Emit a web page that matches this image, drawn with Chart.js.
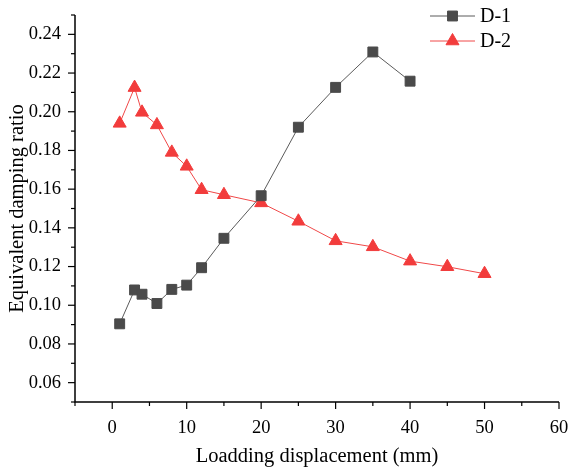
<!DOCTYPE html>
<html lang="en">
<head>
  <meta charset="UTF-8" />
  <title>Equivalent damping ratio</title>
  <script src="https://cdn.jsdelivr.net/npm/chart.js"></script>
  <style>
    html, body {
      margin: 0;
      padding: 0;
      background: #ffffff;
    }
    #wrap {
      position: relative;
      width: 569px;
      height: 469px;
    }
  </style>
</head>
<body>
<div id="wrap">
  <canvas id="myChart"></canvas>
</div>

<script>
  // data
  const dispD1 = [1, 3, 4, 6, 8, 10, 12, 15, 20, 25, 30, 35, 40];
  const ratioD1 = [0.0904, 0.1079, 0.1057, 0.1009, 0.1082, 0.1104, 0.1194, 0.1346, 0.1566, 0.1920, 0.2126, 0.2309, 0.2158];
  const dispD2 = [1, 3, 4, 6, 8, 10, 12, 15, 20, 25, 30, 35, 40, 45, 50];
  const ratioD2 = [0.1940, 0.2125, 0.1997, 0.1932, 0.1790, 0.1718, 0.1597, 0.1571, 0.1529, 0.1434, 0.1333, 0.1302, 0.1228, 0.1199, 0.1163];
  const seriesNames = ['D-1', 'D-2'];
  const xTickLabels = [0, 10, 20, 30, 40, 50, 60];
  const yTickLabels = [0.06, 0.08, 0.10, 0.12, 0.14, 0.16, 0.18, 0.20, 0.22, 0.24];

  const FONT = "'Liberation Serif', 'Times New Roman', serif";
  const GREY = '#4a4a4a';
  const RED = '#f23c3c';

  const toXY = (xs, ys) => xs.map((x, i) => ({ x: x, y: ys[i] }));

  // axis lines + outward ticks, long on labelled values, short in between
  const tickMarks = {
    id: 'tickMarks',
    afterDraw(chart) {
      const c = chart.ctx;
      const xs = chart.scales.x, ys = chart.scales.y;
      const area = chart.chartArea;
      c.save();
      c.strokeStyle = '#000';
      c.lineWidth = 1.5;
      c.beginPath();
      c.moveTo(area.left, area.top);
      c.lineTo(area.left, area.bottom);
      c.lineTo(area.right, area.bottom);
      c.stroke();
      c.lineWidth = 1.2;
      xs.ticks.forEach(t => {
        const px = xs.getPixelForValue(t.value);
        const major = xTickLabels.includes(Math.round(t.value));
        c.beginPath();
        c.moveTo(px, area.bottom);
        c.lineTo(px, area.bottom + (major ? 7 : 4));
        c.stroke();
      });
      ys.ticks.forEach(t => {
        const py = ys.getPixelForValue(t.value);
        const major = yTickLabels.some(v => Math.abs(v - t.value) < 1e-6);
        c.beginPath();
        c.moveTo(area.left, py);
        c.lineTo(area.left - (major ? 7 : 4), py);
        c.stroke();
      });
      c.restore();
    }
  };

  // legend drawn as line - marker - line, like the original
  const lineLegend = {
    id: 'lineLegend',
    afterDraw(chart) {
      const c = chart.ctx;
      c.save();
      chart.data.datasets.forEach((ds, i) => {
        const y = 16 + i * 25;
        const x0 = 430, x1 = 475;
        c.strokeStyle = ds.borderColor;
        c.lineWidth = 1;
        c.beginPath();
        c.moveTo(x0, y);
        c.lineTo(x1, y);
        c.stroke();
        c.fillStyle = ds.pointBackgroundColor;
        c.strokeStyle = ds.pointBorderColor;
        Chart.helpers.drawPoint(c, {
          pointStyle: ds.pointStyle,
          radius: ds.pointRadius,
          borderWidth: 1
        }, (x0 + x1) / 2, y);
        c.fillStyle = '#000';
        c.font = '20px ' + FONT;
        c.textBaseline = 'middle';
        c.fillText(ds.label, x1 + 5, y + 1);
      });
      c.restore();
    }
  };

  const ctx = document.getElementById('myChart').getContext('2d');
  const myChart = new Chart(ctx, {
    type: 'line',
    data: {
      datasets: [
        {
          label: seriesNames[0],
          data: toXY(dispD1, ratioD1),
          borderColor: '#5a5a5a',
          borderWidth: 1,
          pointStyle: 'rect',
          pointRadius: 7,
          pointBackgroundColor: GREY,
          pointBorderColor: GREY,
          pointBorderWidth: 1,
          tension: 0
        },
        {
          label: seriesNames[1],
          data: toXY(dispD2, ratioD2),
          borderColor: '#f04848',
          borderWidth: 1,
          pointStyle: 'triangle',
          pointRadius: 7.5,
          pointBackgroundColor: RED,
          pointBorderColor: RED,
          pointBorderWidth: 1,
          tension: 0
        }
      ]
    },
    options: {
      responsive: true,
      maintainAspectRatio: false,
      animation: false,
      layout: {
        padding: { top: 15, right: 0, left: 5, bottom: 0 }
      },
      plugins: {
        legend: { display: false },
        tooltip: { enabled: false }
      },
      scales: {
        x: {
          type: 'linear',
          min: -5,
          max: 60,
          border: { display: false },
          grid: { display: false },
          ticks: {
            stepSize: 5,
            padding: 7,
            color: '#000',
            font: { family: FONT, size: 18.5 },
            autoSkip: false,
            maxRotation: 0,
            callback: v => xTickLabels.includes(v) ? String(v) : ''
          },
          title: {
            display: true,
            text: 'Loadding displacement (mm)',
            color: '#000',
            font: { family: FONT, size: 20.5 },
            padding: { top: 4, bottom: 0 }
          },
          afterFit: s => { s.height = 67; s.paddingRight = 10; s.paddingLeft = 0; }
        },
        y: {
          type: 'linear',
          min: 0.05,
          max: 0.25,
          border: { display: false },
          grid: { display: false },
          ticks: {
            stepSize: 0.01,
            padding: 6,
            color: '#000',
            font: { family: FONT, size: 18.5 },
            autoSkip: false,
            callback: v => yTickLabels.some(t => Math.abs(t - v) < 1e-6) ? v.toFixed(2) : ''
          },
          title: {
            display: true,
            text: 'Equivalent damping ratio',
            color: '#000',
            font: { family: FONT, size: 20.5 },
            padding: { top: 0, bottom: 4 }
          },
          afterFit: s => { s.width = 70; s.paddingTop = 0; s.paddingBottom = 0; }
        }
      }
    },
    plugins: [tickMarks, lineLegend]
  });
</script>
</body>
</html>
